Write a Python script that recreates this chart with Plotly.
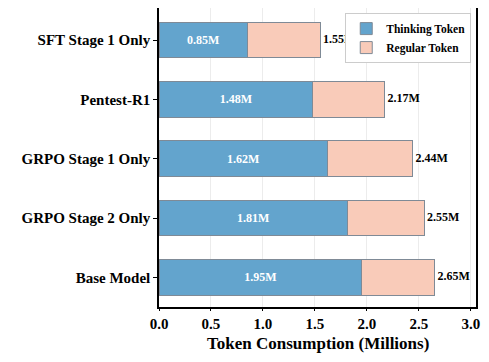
import plotly.graph_objects as go

models = ['Base Model', 'GRPO Stage 2 Only', 'GRPO Stage 1 Only', 'Pentest-R1', 'SFT Stage 1 Only']
thinking = [1.95, 1.81, 1.62, 1.48, 0.85]
total = [2.65, 2.55, 2.44, 2.17, 1.55]
regular = [round(t - th, 2) for t, th in zip(total, thinking)]

font_family = 'Liberation Serif, Times New Roman, serif'
edge = dict(color='#7f8a96', width=1)

fig = go.Figure()

fig.add_trace(go.Bar(
    y=models, x=thinking, orientation='h', name='<b>Thinking Token</b>',
    marker=dict(color='#63a4cd', line=edge), width=0.6,
    text=[f'<b>{v:.2f}M</b>' for v in thinking], textposition='inside',
    insidetextanchor='middle', textangle=0, constraintext='none',
    textfont=dict(color='white', size=12, family=font_family),
))
fig.add_trace(go.Bar(
    y=models, x=regular, orientation='h', name='<b>Regular Token</b>',
    marker=dict(color='#f9cbb9', line=edge), width=0.6,
))
fig.add_trace(go.Scatter(
    y=models, x=total, mode='text', showlegend=False,
    text=[f' <b>{v:.2f}M</b>' for v in total], textposition='middle right',
    textfont=dict(color='black', size=12, family=font_family),
    cliponaxis=False, hoverinfo='skip',
))

# the page body adds 8px, so margins are shifted to line up with the reference
fig.update_layout(
    width=481, height=354,
    margin=dict(l=151, r=13, t=0, b=55),
    barmode='stack',
    plot_bgcolor='white', paper_bgcolor='white',
    font=dict(family=font_family, color='black'),
    legend=dict(
        x=0.985, y=0.983, xanchor='right', yanchor='top',
        traceorder='normal',
        bgcolor='white', bordercolor='#cccccc', borderwidth=1,
        font=dict(size=11.5, family=font_family),
        tracegroupgap=0, itemwidth=30,
    ),
    xaxis=dict(
        range=[0, 3.05], dtick=0.5, tickformat='.1f',
        tickprefix='<b>', ticksuffix='</b>',
        showgrid=True, gridcolor='#ececec', gridwidth=1,
        showline=True, linecolor='black', linewidth=1.5, mirror=True,
        ticks='outside', ticklen=2, tickcolor='black',
        tickfont=dict(size=15, family=font_family),
        zeroline=False, automargin=False,
    ),
    yaxis=dict(
        categoryorder='array', categoryarray=models,
        range=[-0.5, 4.54],
        tickprefix='<b>', ticksuffix='</b>',
        showgrid=False,
        showline=True, linecolor='black', linewidth=1.5, mirror=True,
        ticks='outside', ticklen=4, tickcolor='black',
        tickfont=dict(size=15, family=font_family),
        automargin=False,
    ),
    annotations=[dict(
        text='<b>Token Consumption (Millions)</b>',
        xref='paper', yref='paper', x=0.5, y=0, yanchor='top', yshift=-25,
        showarrow=False, font=dict(size=17, family=font_family),
    )],
)

fig.write_html('out.html')
